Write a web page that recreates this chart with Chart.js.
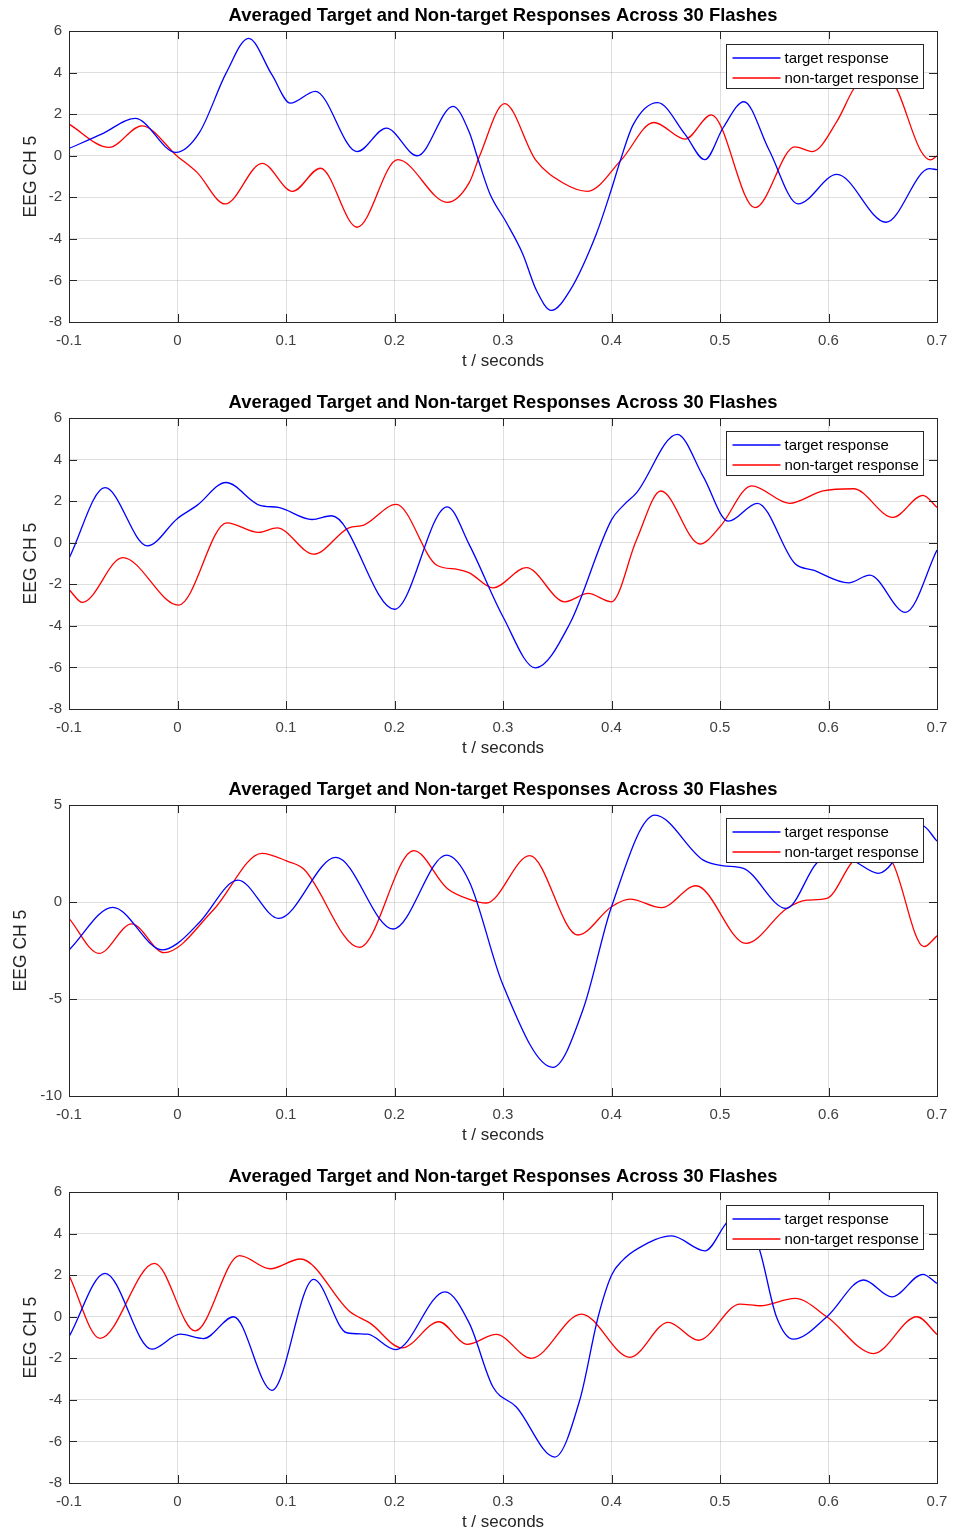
<!DOCTYPE html>
<html>
<head>
<meta charset="utf-8">
<title>Averaged Target and Non-target Responses</title>
<script src="https://cdn.jsdelivr.net/npm/chart.js@4/dist/chart.umd.min.js"></script>
<style>
  html, body { margin: 0; padding: 0; background: #fff; overflow: hidden; }
  .panel { position: absolute; left: 0; width: 953px; height: 387px; }
</style>
</head>
<body>
<div class="panel" style="top:0px"><canvas id="c1" width="953" height="387"></canvas></div>
<div class="panel" style="top:387px"><canvas id="c2" width="953" height="387"></canvas></div>
<div class="panel" style="top:774px"><canvas id="c3" width="953" height="387"></canvas></div>
<div class="panel" style="top:1161px"><canvas id="c4" width="953" height="387"></canvas></div>
<script>
// ticks and labels
const xTicks = [-0.1, 0, 0.1, 0.2, 0.3, 0.4, 0.5, 0.6, 0.7];
const yTicksA = [-8, -6, -4, -2, 0, 2, 4, 6];
const yTicksB = [-10, -5, 0, 5];
const titleText = "Averaged Target and Non-target Responses Across 30 Flashes";
const xLabel = "t / seconds";
const yLabel = "EEG CH 5";
const seriesNames = ["target response", "non-target response"];

// panel 1
const t1Target = [-0.1, -0.07, -0.039, -0.0015, 0.02, 0.045, 0.0655, 0.087, 0.104, 0.127, 0.1655, 0.1925, 0.221, 0.254, 0.269, 0.276, 0.288, 0.303, 0.318, 0.331, 0.3446, 0.3615, 0.386, 0.4, 0.408, 0.42, 0.4425, 0.4677, 0.486, 0.503, 0.522, 0.545, 0.572, 0.6077, 0.653, 0.693, 0.7];
const v1Target = [0.35, 1.04, 1.8, 0.16, 1.1, 4.0, 5.65, 3.9, 2.53, 3.1, 0.2, 1.33, 0.0, 2.38, 1.12, 0.0, -1.84, -3.2, -4.7, -6.5, -7.44, -6.5, -3.76, -1.6, -0.25, 1.5, 2.56, 1.04, -0.19, 1.36, 2.6, 0.3, -2.32, -0.9, -3.2, -0.62, -0.67];
const t1Non = [-0.1, -0.063, -0.033, 0, 0.018, 0.044, 0.078, 0.106, 0.1317, 0.1655, 0.203, 0.2486, 0.269, 0.2785, 0.3015, 0.33, 0.355, 0.378, 0.409, 0.439, 0.468, 0.492, 0.5323, 0.569, 0.585, 0.608, 0.623, 0.642, 0.6615, 0.685, 0.694, 0.7];
const v1Non = [1.52, 0.4, 1.44, -0.03, -0.8, -2.32, -0.37, -1.71, -0.6, -3.44, -0.19, -2.24, -1.28, 0.0, 2.51, -0.2, -1.3, -1.71, -0.2, 1.6, 0.8, 1.97, -2.5, 0.43, 0.2, 1.68, 3.2, 4.4, 3.36, 0.24, -0.2, 0.0];

// panel 2
const t2Target = [-0.1, -0.0668, -0.0277, 0, 0.018, 0.0446, 0.076, 0.093, 0.124, 0.142, 0.2, 0.2486, 0.269, 0.3, 0.33, 0.3615, 0.4, 0.411, 0.423, 0.4606, 0.4846, 0.5077, 0.5345, 0.569, 0.586, 0.6185, 0.638, 0.671, 0.7];
const v2Target = [-0.75, 2.65, -0.15, 1.17, 1.8, 2.9, 1.8, 1.7, 1.12, 1.3, -3.2, 1.73, -0.1, -3.56, -6.02, -3.9, 1.1, 1.8, 2.4, 5.22, 3.18, 1.04, 1.9, -1.0, -1.32, -1.93, -1.56, -3.35, -0.35];
const t2Non = [-0.1, -0.0877, -0.0505, 0.001, 0.0455, 0.0748, 0.0917, 0.1255, 0.158, 0.1717, 0.2015, 0.239, 0.258, 0.269, 0.2908, 0.3215, 0.357, 0.3785, 0.4, 0.423, 0.4455, 0.4815, 0.5, 0.5292, 0.564, 0.595, 0.623, 0.6594, 0.687, 0.7];
const v2Non = [-2.25, -2.87, -0.72, -3.0, 0.96, 0.5, 0.72, -0.55, 0.72, 0.85, 1.85, -1.08, -1.28, -1.45, -2.17, -1.2, -2.84, -2.44, -2.84, 0.13, 2.49, -0.06, 0.77, 2.74, 1.9, 2.5, 2.6, 1.22, 2.28, 1.7];

// panel 3
const t3Target = [-0.1, -0.0597, -0.0138, 0, 0.021, 0.0557, 0.0932, 0.146, 0.1988, 0.248, 0.269, 0.3, 0.346, 0.374, 0.4, 0.44, 0.4846, 0.503, 0.5215, 0.561, 0.589, 0.607, 0.626, 0.646, 0.659, 0.674, 0.686, 0.7];
const v3Target = [-2.47, -0.27, -2.47, -2.13, -1.0, 1.13, -0.84, 2.3, -1.39, 2.42, 1.05, -4.28, -8.52, -5.5, -0.24, 4.48, 2.16, 1.87, 1.74, -0.33, 2.0, 2.6, 2.04, 1.48, 2.04, 3.6, 3.95, 3.14];
const t3Non = [-0.1, -0.0723, -0.0422, -0.0123, 0.033, 0.0778, 0.101, 0.1163, 0.1677, 0.2178, 0.2486, 0.269, 0.2846, 0.3246, 0.369, 0.4, 0.417, 0.446, 0.4778, 0.524, 0.5615, 0.58, 0.5985, 0.6215, 0.64, 0.659, 0.688, 0.7];
const v3Non = [-0.84, -2.65, -1.13, -2.61, -0.41, 2.51, 2.11, 1.7, -2.34, 2.65, 0.7, 0.14, -0.05, 2.39, -1.7, -0.24, 0.15, -0.29, 0.84, -2.13, -0.33, 0.1, 0.19, 2.04, 3.0, 2.04, -2.3, -1.74];

// panel 4
const t4Target = [-0.1, -0.0668, -0.0237, 0.0025, 0.024, 0.0517, 0.087, 0.1255, 0.156, 0.175, 0.201, 0.2465, 0.269, 0.2908, 0.3123, 0.3477, 0.3708, 0.3877, 0.4, 0.41, 0.425, 0.4554, 0.4862, 0.5046, 0.518, 0.5363, 0.552, 0.5677, 0.5985, 0.6323, 0.6585, 0.687, 0.7];
const v4Target = [-0.96, 2.09, -1.56, -0.84, -1.05, 0.0, -3.54, 1.8, -0.77, -0.84, -1.58, 1.2, -0.32, -3.38, -4.34, -6.75, -4.0, 0.0, 2.0, 2.7, 3.3, 3.89, 3.17, 4.42, 5.3, 3.25, 0.0, -1.08, 0.0, 1.77, 0.96, 2.04, 1.6];
const t4Non = [-0.1, -0.0714, -0.0212, 0.0163, 0.0572, 0.0855, 0.1132, 0.159, 0.1778, 0.207, 0.241, 0.267, 0.2938, 0.326, 0.3723, 0.417, 0.4523, 0.48, 0.5185, 0.537, 0.5692, 0.5985, 0.6415, 0.6815, 0.7];
const v4Non = [2.0, -1.04, 2.57, -0.68, 2.94, 2.31, 2.78, 0.24, -0.32, -1.5, -0.24, -1.33, -0.85, -2.0, 0.13, -1.95, -0.27, -1.13, 0.61, 0.53, 0.88, 0.0, -1.77, 0.0, -0.85];

Chart.defaults.font.family = "'Liberation Sans', Arial, sans-serif";

function toPoints(ts, vs) {
  return ts.map((t, i) => ({ x: t, y: vs[i] }));
}

// MATLAB-style box, inward ticks and legend inside the axes
const matlabAxes = {
  id: "matlabAxes",
  afterDatasetsDraw(chart) {
    const { ctx, chartArea: a, scales } = chart;
    ctx.save();
    ctx.strokeStyle = "#262626";
    ctx.lineWidth = 1;
    ctx.beginPath();
    scales.x.ticks.forEach(tk => {
      const px = Math.round(scales.x.getPixelForValue(tk.value)) + 0.5;
      ctx.moveTo(px, a.bottom); ctx.lineTo(px, a.bottom - 8);
      ctx.moveTo(px, a.top); ctx.lineTo(px, a.top + 8);
    });
    scales.y.ticks.forEach(tk => {
      const py = Math.round(scales.y.getPixelForValue(tk.value)) + 0.5;
      ctx.moveTo(a.left, py); ctx.lineTo(a.left + 8, py);
      ctx.moveTo(a.right, py); ctx.lineTo(a.right - 8, py);
    });
    ctx.stroke();
    ctx.strokeRect(Math.round(a.left) + 0.5, Math.round(a.top) + 0.5,
                   Math.round(a.right - a.left), Math.round(a.bottom - a.top));

    // legend
    const bw = 197, bh = 44;
    const bx = Math.round(a.right - 14 - bw) + 0.5;
    const by = Math.round(a.top + 13) + 0.5;
    ctx.fillStyle = "#fff";
    ctx.fillRect(bx, by, bw, bh);
    ctx.strokeStyle = "#262626";
    ctx.strokeRect(bx, by, bw, bh);
    ctx.font = "15px 'Liberation Sans', Arial, sans-serif";
    ctx.textBaseline = "middle";
    ctx.textAlign = "left";
    chart.data.datasets.forEach((ds, i) => {
      const ry = Math.round(by + 13 + i * 20);
      ctx.strokeStyle = ds.borderColor;
      ctx.lineWidth = 1.3;
      ctx.beginPath();
      ctx.moveTo(bx + 6, ry); ctx.lineTo(bx + 54, ry);
      ctx.stroke();
      ctx.fillStyle = "#000";
      ctx.fillText(ds.label, bx + 58, ry + 1);
    });
    ctx.restore();
  }
};

function makePanel(id, target, nonTarget, yTicks, leftPad) {
  const yMin = yTicks[0], yMax = yTicks[yTicks.length - 1];
  return new Chart(document.getElementById(id), {
    type: "line",
    data: {
      datasets: [{
        label: seriesNames[0],
        data: target,
        borderColor: "#0000ff",
        borderWidth: 1.3,
        pointRadius: 0,
        cubicInterpolationMode: "monotone",
        fill: false,
      }, {
        label: seriesNames[1],
        data: nonTarget,
        borderColor: "#ff0000",
        borderWidth: 1.3,
        pointRadius: 0,
        cubicInterpolationMode: "monotone",
        fill: false,
      }],
    },
    options: {
      responsive: false,
      animation: false,
      events: [],
      layout: { padding: { left: leftPad, right: 16, top: 0, bottom: 0 } },
      plugins: {
        legend: { display: false },
        tooltip: { enabled: false },
        title: {
          display: true,
          text: titleText,
          fullSize: false,
          color: "#000",
          font: { size: 18.4, weight: "bold" },
          padding: { top: 5, bottom: 4 },
        },
      },
      scales: {
        x: {
          type: "linear",
          min: -0.1,
          max: 0.7,
          afterBuildTicks: s => { s.ticks = xTicks.map(v => ({ value: v })); },
          afterFit: s => { s.height = 65; s.paddingLeft = 0; s.paddingRight = 0; },
          ticks: {
            color: "#404040",
            font: { size: 15 },
            padding: 10,
            maxRotation: 0,
            callback: v => String(Math.round(v * 10) / 10),
          },
          grid: { color: "rgba(38,38,38,0.15)", drawTicks: false },
          border: { display: false },
          title: {
            display: true,
            text: xLabel,
            color: "#262626",
            font: { size: 17 },
            padding: { top: 0, bottom: 15 },
          },
        },
        y: {
          min: yMin,
          max: yMax,
          afterBuildTicks: s => { s.ticks = yTicks.map(v => ({ value: v })); },
          afterFit: s => { s.width = 69 - leftPad; s.paddingTop = 0; s.paddingBottom = 0; },
          ticks: {
            color: "#404040",
            font: { size: 15 },
            padding: 7,
            callback: v => String(v),
          },
          grid: { color: "rgba(38,38,38,0.15)", drawTicks: false },
          border: { display: false },
          title: {
            display: true,
            text: yLabel,
            color: "#262626",
            font: { size: 17.5 },
            padding: { top: 0, bottom: 0 },
          },
        },
      },
    },
    plugins: [matlabAxes],
  });
}

makePanel("c1", toPoints(t1Target, v1Target), toPoints(t1Non, v1Non), yTicksA, 21);
makePanel("c2", toPoints(t2Target, v2Target), toPoints(t2Non, v2Non), yTicksA, 21);
makePanel("c3", toPoints(t3Target, v3Target), toPoints(t3Non, v3Non), yTicksB, 11);
makePanel("c4", toPoints(t4Target, v4Target), toPoints(t4Non, v4Non), yTicksA, 21);
</script>
</body>
</html>
